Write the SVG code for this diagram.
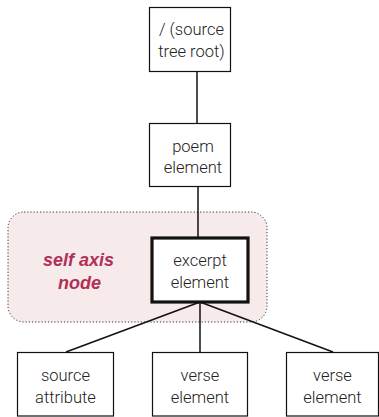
<svg xmlns="http://www.w3.org/2000/svg" width="379" height="417" viewBox="0 0 379 417">
<style>
.box{fill:#fff;stroke:#111;stroke-width:1.2}
.bold{fill:#fff;stroke:#111;stroke-width:3.2}
.t{font-family:Roboto,"Liberation Sans",sans-serif;font-weight:300;font-size:16.5px;fill:#222;text-anchor:middle}
.lbl{font-family:"Liberation Sans",Arial,sans-serif;font-weight:bold;font-style:italic;font-size:18px;fill:#b03058;text-anchor:middle}
.c{stroke:#111;stroke-width:1.5;fill:none}
</style>
<rect id="self-region" x="8" y="212" width="259" height="110" rx="16" ry="16" fill="#f7eaea" stroke="#333" stroke-width="1" stroke-dasharray="1.2 2"/>
<text class="lbl" x="78.5" y="266">self axis</text>
<text class="lbl" x="79.5" y="289">node</text>
<g id="connectors">
<line class="c" x1="197" y1="72" x2="197" y2="123"/>
<line class="c" x1="198" y1="186" x2="198" y2="237"/>
<line class="c" x1="200" y1="302" x2="66" y2="352"/>
<line class="c" x1="200" y1="302" x2="200" y2="352"/>
<line class="c" x1="200" y1="302" x2="333" y2="352"/>
</g>
<g id="root">
<rect class="box" x="149.5" y="7.5" width="81" height="64"/>
<text class="t" x="191.5" y="35">/ (source</text>
<text class="t" x="191.5" y="57">tree root)</text>
</g>
<g id="poem">
<rect class="box" x="149.5" y="123.5" width="81" height="63"/>
<text class="t" x="193" y="152">poem</text>
<text class="t" x="193" y="173">element</text>
</g>
<g id="excerpt">
<rect class="bold" x="152" y="238" width="96" height="64"/>
<text class="t" x="200" y="266">excerpt</text>
<text class="t" x="200" y="288">element</text>
</g>
<g id="source">
<rect class="box" x="17.5" y="352.5" width="96" height="63.5"/>
<text class="t" x="65.5" y="381">source</text>
<text class="t" x="65.5" y="403">attribute</text>
</g>
<g id="verse1">
<rect class="box" x="152.5" y="352.5" width="95" height="63.5"/>
<text class="t" x="200" y="381">verse</text>
<text class="t" x="200" y="403">element</text>
</g>
<g id="verse2">
<rect class="box" x="286.5" y="352.5" width="92" height="63.5"/>
<text class="t" x="332.5" y="381">verse</text>
<text class="t" x="332.5" y="403">element</text>
</g>
</svg>
